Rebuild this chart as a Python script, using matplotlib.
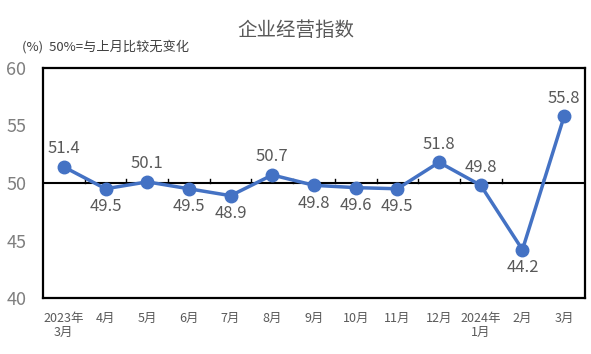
import matplotlib.pyplot as plt

plt.rcParams['font.family'] = ['Noto Sans CJK SC', 'DejaVu Sans']

months = ['2023年\n3月', '4月', '5月', '6月', '7月', '8月', '9月', '10月', '11月', '12月',
          '2024年\n1月', '2月', '3月']
values = [51.4, 49.5, 50.1, 49.5, 48.9, 50.7, 49.8, 49.6, 49.5, 51.8, 49.8, 44.2, 55.8]
label_above = [True, False, True, False, False, True, False, False, False, True, True, False, True]
yticks = [40, 45, 50, 55, 60]

gray = '#595959'
blue = '#4472C4'

fig = plt.figure(figsize=(5.91, 3.54), dpi=100)
ax = fig.add_axes([0.0728, 0.158, 0.917, 0.65])

x = list(range(len(values)))
ax.plot(x, values, color=blue, linewidth=2.5, marker='o', markersize=9, zorder=3)

for xi, v, up in zip(x, values, label_above):
    ax.annotate(f'{v:.1f}', (xi, v), xytext=(0, 7 if up else -7), textcoords='offset points',
                ha='center', va='bottom' if up else 'top', fontsize=12, color=gray)

# baseline at 50 with small category ticks
ax.axhline(50, color='black', linewidth=1.5, zorder=2)
for b in range(1, len(values)):
    ax.plot([b - 0.5, b - 0.5], [50, 50.35], color='black', linewidth=1, zorder=2)

ax.set_xlim(-0.5, len(values) - 0.5)
ax.set_ylim(40, 60)
ax.set_yticks(yticks)
ax.set_yticklabels([str(t) for t in yticks], fontsize=13, color='#7f7f7f')
ax.set_xticks(x)
ax.set_xticklabels(months, fontsize=9, color=gray, linespacing=1.05)
ax.tick_params(length=0)
ax.tick_params(axis='x', pad=10)
ax.tick_params(axis='y', pad=12)
for s in ax.spines.values():
    s.set_color('black')
    s.set_linewidth(1.6)

fig.text(0.5, 0.915, '企业经营指数', ha='center', va='center', fontsize=14, color=gray)
fig.text(0.037, 0.868, '(%)  50%=与上月比较无变化', ha='left', va='center', fontsize=9.5, color='#404040')

fig.savefig('out.png', dpi=100)
